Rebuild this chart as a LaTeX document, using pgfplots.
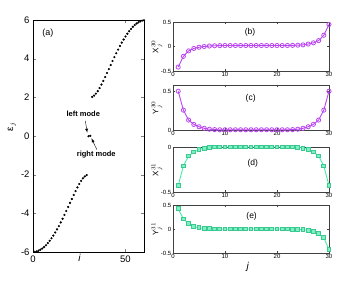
\documentclass[border=0pt]{standalone}
\usepackage{pgfplots}
\pgfplotsset{compat=1.18}
\usepackage{fontspec}
\setmainfont{Liberation Sans}
\definecolor{pur}{RGB}{185,70,240}
\definecolor{grn}{RGB}{70,235,170}
\tikzset{tl/.style={font=\fontsize{6}{7}\selectfont, inner sep=1.5pt}}
\begin{document}
\begin{tikzpicture}
\useasboundingbox (0,0) rectangle (354pt,282pt);
\pgfplotsset{
  every axis/.append style={scale only axis,
    /pgf/number format/assume math mode=true, tick align=inside, clip=false},
  rpanel/.style={anchor=south west, width=156pt, xmin=0, xmax=30, xtick={10,20,30},
    xticklabels={}, yticklabels={},
    major tick length=2pt, axis line style={black!75}, tick style={black!75},
    ylabel style={font=\fontsize{8}{9}\selectfont, at={(axis description cs:-0.103,0.5)}, anchor=center}},
  ppl/.style={color=pur, line width=0.9pt, mark=o, mark size=2.1pt, mark options={line width=0.8pt}},
  gpl/.style={color=grn, line width=0.9pt, mark=square*, mark size=1.9pt, mark options={fill=grn!70!white, draw=grn!85!black}},
}
% (a)
\begin{axis}[anchor=south west, at={(33pt,30pt)}, width=111pt, height=232pt,
  xmin=0, xmax=60, ymin=-6, ymax=6, xtick={0,50}, ytick={-6,-4,-2,0,2,4,6},
  tick label style={font=\fontsize{9.5}{11}\selectfont}, major tick length=3pt,
  xlabel={\textit{i}}, xlabel style={font=\fontsize{10}{12}\selectfont, at={(axis description cs:0.42,-0.026)}, anchor=center},
  ylabel={ε$_{j}$}, ylabel style={font=\fontsize{10}{12}\selectfont, at={(axis description cs:-0.19,0.54)}, anchor=center}]
\addplot[only marks, mark=*, mark size=0.9pt, black] coordinates {
(1,-5.99)(2,-5.97)(3,-5.93)(4,-5.88)(5,-5.82)(6,-5.74)(7,-5.65)(8,-5.54)(9,-5.42)(10,-5.29)
(11,-5.15)(12,-4.99)(13,-4.83)(14,-4.66)(15,-4.47)(16,-4.28)(17,-4.08)(18,-3.88)(19,-3.67)(20,-3.46)
(21,-3.26)(22,-3.05)(23,-2.85)(24,-2.66)(25,-2.48)(26,-2.32)(27,-2.19)(28,-2.09)(29,-2.02)
(30,-0.01)(31,0.01)
(32,2.02)(33,2.09)(34,2.19)(35,2.32)(36,2.48)(37,2.66)(38,2.85)(39,3.05)(40,3.26)(41,3.46)
(42,3.67)(43,3.88)(44,4.08)(45,4.28)(46,4.47)(47,4.66)(48,4.83)(49,4.99)(50,5.15)(51,5.29)
(52,5.42)(53,5.54)(54,5.65)(55,5.74)(56,5.82)(57,5.88)(58,5.93)(59,5.97)(60,5.99)};
\node[font=\fontsize{9}{10}\selectfont] at (axis description cs:0.135,0.944) {(a)};
\node[font=\bfseries\fontsize{7.5}{9}\selectfont] at (axis cs:27.2,1.14) {left  mode};
\node[font=\bfseries\fontsize{7.5}{9}\selectfont] at (axis cs:34.2,-0.98) {right mode};
\draw[-latex, line width=0.4pt] (axis cs:28.3,0.78) -- (axis cs:29.3,0.17);
\draw[-latex, line width=0.4pt] (axis cs:34.5,-0.70) -- (axis cs:31.6,-0.12);
\end{axis}
% (b)
\begin{axis}[rpanel, at={(173pt,211pt)}, height=49pt, ymin=-0.5, ymax=0.5, ytick={-0.5,0,0.5},
  ylabel={X$^{30}_{j}$}]
\addplot[ppl] coordinates {
(1,-0.42)(2,-0.20)(3,-0.09)(4,-0.04)(5,-0.015)(6,0.0)(7,0.01)(8,0.015)(9,0.018)(10,0.02)
(11,0.02)(12,0.02)(13,0.02)(14,0.02)(15,0.02)(16,0.02)(17,0.02)(18,0.02)(19,0.02)(20,0.02)
(21,0.02)(22,0.021)(23,0.023)(24,0.027)(25,0.034)(26,0.05)(27,0.075)(28,0.12)(29,0.23)(30,0.45)};
\node[font=\fontsize{8.5}{10}\selectfont] at (axis description cs:0.494,0.796) {(b)};
\node[tl, anchor=east] at (axis description cs:0,1) {0.5};
\node[tl, anchor=east] at (axis description cs:0,0.5) {0};
\node[tl, anchor=east] at (axis description cs:0,0) {-0.5};
\node[tl, anchor=north] at (axis description cs:0,0) {0};
\node[tl, anchor=north] at (axis description cs:0.3333,0) {10};
\node[tl, anchor=north] at (axis description cs:0.6667,0) {20};
\node[tl, anchor=north] at (axis description cs:1,0) {30};
\end{axis}
% (c)
\begin{axis}[rpanel, at={(173pt,152pt)}, height=45pt, ymin=0, ymax=0.58, ytick={0,0.5},
  ylabel={Y$^{30}_{j}$}]
\addplot[ppl] coordinates {
(1,0.50)(2,0.256)(3,0.128)(4,0.072)(5,0.042)(6,0.022)(7,0.01)(8,0.005)(9,0.003)(10,0.003)
(11,0.003)(12,0.003)(13,0.003)(14,0.003)(15,0.003)(16,0.003)(17,0.003)(18,0.003)(19,0.003)(20,0.003)
(21,0.003)(22,0.003)(23,0.005)(24,0.01)(25,0.022)(26,0.042)(27,0.073)(28,0.128)(29,0.256)(30,0.50)};
\node[font=\fontsize{8.5}{10}\selectfont] at (axis description cs:0.498,0.71) {(c)};
\node[tl, anchor=east] at (axis description cs:0,0.862) {0.5};
\node[tl, anchor=east] at (axis description cs:0,0) {0};
\node[tl, anchor=north] at (axis description cs:0,0) {0};
\node[tl, anchor=north] at (axis description cs:0.3333,0) {10};
\node[tl, anchor=north] at (axis description cs:0.6667,0) {20};
\node[tl, anchor=north] at (axis description cs:1,0) {30};
\end{axis}
% (d)
\begin{axis}[rpanel, at={(173pt,90pt)}, height=45pt, ymin=-0.5, ymax=0, ytick={-0.5,0},
  ylabel={X$^{31}_{j}$}]
\addplot[gpl] coordinates {
(1,-0.43)(2,-0.21)(3,-0.10)(4,-0.055)(5,-0.03)(6,-0.012)(7,-0.004)(8,0)(9,0)(10,0)
(11,0)(12,0)(13,0)(14,0)(15,0)(16,0)(17,0)(18,0)(19,0)(20,0)
(21,0)(22,0)(23,0)(24,-0.004)(25,-0.012)(26,-0.03)(27,-0.055)(28,-0.10)(29,-0.21)(30,-0.43)};
\node[font=\fontsize{8.5}{10}\selectfont] at (axis description cs:0.511,0.64) {(d)};
\node[tl, anchor=east] at (axis description cs:0,1) {0};
\node[tl, anchor=east] at (axis description cs:0,0) {-0.5};
\node[tl, anchor=north] at (axis description cs:0,0) {0};
\node[tl, anchor=north] at (axis description cs:0.3333,0) {10};
\node[tl, anchor=north] at (axis description cs:0.6667,0) {20};
\node[tl, anchor=north] at (axis description cs:1,0) {30};
\end{axis}
% (e)
\begin{axis}[rpanel, at={(173pt,29pt)}, height=48pt, ymin=-0.5, ymax=0.5, ytick={-0.5,0,0.5},
  ylabel={Y$^{31}_{j}$},
  xlabel={\textit{j}}, xlabel style={font=\fontsize{10}{12}\selectfont, at={(axis description cs:0.48,-0.29)}, anchor=center}]
\addplot[gpl] coordinates {
(1,0.42)(2,0.21)(3,0.11)(4,0.05)(5,0.025)(6,0.01)(7,0.004)(8,0)(9,0)(10,0)
(11,0)(12,0)(13,0)(14,0)(15,0)(16,0)(17,0)(18,0)(19,0)(20,0)
(21,0)(22,0)(23,-0.004)(24,-0.01)(25,-0.015)(26,-0.025)(27,-0.05)(28,-0.10)(29,-0.18)(30,-0.43)};
\node[font=\fontsize{8.5}{10}\selectfont] at (axis description cs:0.504,0.756) {(e)};
\node[tl, anchor=east] at (axis description cs:0,1) {0.5};
\node[tl, anchor=east] at (axis description cs:0,0.5) {0};
\node[tl, anchor=east] at (axis description cs:0,0) {-0.5};
\node[tl, anchor=north] at (axis description cs:0,0) {0};
\node[tl, anchor=north] at (axis description cs:0.3333,0) {10};
\node[tl, anchor=north] at (axis description cs:0.6667,0) {20};
\node[tl, anchor=north] at (axis description cs:1,0) {30};
\end{axis}
\end{tikzpicture}
\end{document}
